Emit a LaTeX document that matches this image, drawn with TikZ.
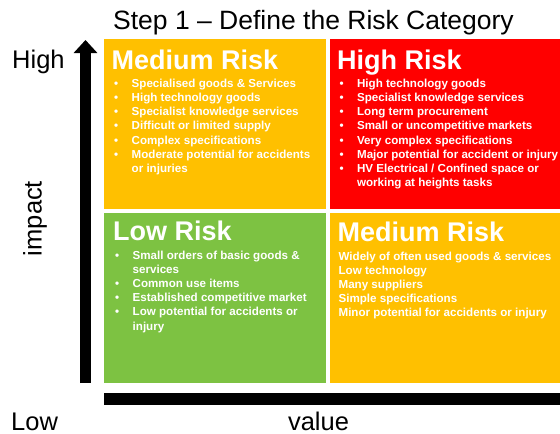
\documentclass[tikz,border=0pt]{standalone}
\usepackage{fontspec}
\setmainfont{Liberation Sans}
\usepackage{tikz}
\usetikzlibrary{positioning,arrows.meta}

\definecolor{riskamber}{RGB}{255,192,0}
\definecolor{riskred}{RGB}{255,0,0}
\definecolor{riskgreen}{RGB}{125,194,66}

\newcommand{\rbul}{\makebox[17.5pt][l]{\textbullet}}
\newcommand{\rgap}{\hspace*{17.5pt}}

\begin{document}
\begin{tikzpicture}[x=1pt, y=-1pt,
    riskbox/.style={inner sep=0pt, minimum height=170pt},
    riskhead/.style={anchor=base west, inner sep=0pt, text=white, font=\fontsize{27}{30}\selectfont\bfseries},
    risklist/.style={anchor=north west, inner sep=0pt, text=white, align=left, font=\fontsize{11.6}{14.1}\selectfont\bfseries},
    axislabel/.style={inner sep=0pt, font=\fontsize{25.5}{28}\selectfont}]
  \useasboundingbox (0,0) rectangle (560,434);
  % title
  \node[inner sep=0pt, anchor=base, font=\fontsize{26.5}{30}\selectfont] (title) at (313.5,29.3) {Step 1 \textendash{} Define the Risk Category};
  % the four boxes
  \node[riskbox, fill=riskamber, minimum width=222pt, anchor=north west] (medTL) at (104,39) {};
  \node[riskbox, fill=riskred, minimum width=231pt, right=3pt of medTL] (highTR) {};
  \node[riskbox, fill=riskgreen, minimum width=222pt, below=3pt of medTL] (lowBL) {};
  \node[riskbox, fill=riskamber, minimum width=231pt, below=3pt of highTR] (medBR) {};
  % headings
  \node[riskhead] (medTLhead) at ([xshift=7.5pt,yshift=-30pt]medTL.north west) {Medium Risk};
  \node[riskhead] (highTRhead) at ([xshift=7.5pt,yshift=-30pt]highTR.north west) {High Risk};
  \node[riskhead] (lowBLhead) at ([xshift=9pt,yshift=-28.5pt]lowBL.north west) {Low Risk};
  \node[riskhead] (medBRhead) at ([xshift=8pt,yshift=-29pt]medBR.north west) {Medium Risk};
  % lists
  \node[risklist] (medTLlist) at ([xshift=10pt,yshift=-40pt]medTL.north west) {
    \rbul Specialised goods \& Services\\
    \rbul High technology goods\\
    \rbul Specialist knowledge services\\
    \rbul Difficult or limited supply\\
    \rbul Complex specifications\\
    \rbul Moderate potential for accidents\\
    \rgap or injuries};
  \node[risklist] (highTRlist) at ([xshift=10pt,yshift=-40pt]highTR.north west) {
    \rbul High technology goods\\
    \rbul Specialist knowledge services\\
    \rbul Long term procurement\\
    \rbul Small or uncompetitive markets\\
    \rbul Very complex specifications\\
    \rbul Major potential for accident or injury\\
    \rbul HV Electrical / Confined space or\\
    \rgap working at heights tasks};
  \node[risklist] (lowBLlist) at ([xshift=11pt,yshift=-38.5pt]lowBL.north west) {
    \rbul Small orders of basic goods \&\\
    \rgap services\\
    \rbul Common use items\\
    \rbul Established competitive market\\
    \rbul Low potential for accidents or\\
    \rgap injury};
  \node[risklist] (medBRlist) at ([xshift=9pt,yshift=-39pt]medBR.north west) {
    Widely of often used goods \& services\\
    Low technology\\
    Many suppliers\\
    Simple specifications\\
    Minor potential for accidents or injury};
  % axes
  \node[fill=black, inner sep=0pt, minimum width=456pt, minimum height=12pt, below=10pt of lowBL.south west, anchor=north west] (valueBar) {};
  \coordinate (impactFoot) at (85.5,383);
  \coordinate (impactTip) at (85.5,40);
  \draw[line width=11pt, -{Triangle[width=23pt,length=13pt]}] (impactFoot) -- (impactTip);
  \node[axislabel, anchor=base west] (highLbl) at (12,68.3) {High};
  \node[axislabel, anchor=base west] (lowLbl) at (11,430) {Low};
  \node[axislabel, anchor=base] (valueLbl) at (318.5,430) {value};
  \node[axislabel, rotate=90] (impactLbl) at (35,218.5) {impact};
\end{tikzpicture}
\end{document}
